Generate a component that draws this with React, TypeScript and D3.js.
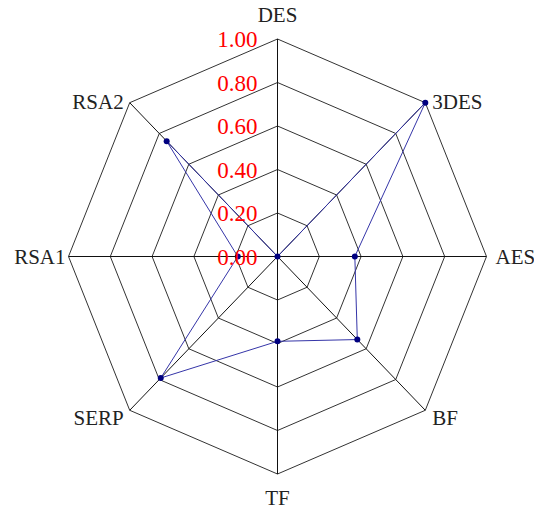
import { useEffect, useRef } from 'react';
import * as d3 from 'd3';

const axes = ['DES', '3DES', 'AES', 'BF', 'TF', 'SERP', 'RSA1', 'RSA2'];
const values = [0, 1.0, 0.37, 0.54, 0.39, 0.79, 0.19, 0.75];
const levels = [0.2, 0.4, 0.6, 0.8, 1.0];
const tickLabels = ['0.00', '0.20', '0.40', '0.60', '0.80', '1.00'];
const tickValues = [0, 0.2, 0.4, 0.6, 0.8, 1.0];

const App = () => {
    const ref = useRef<SVGSVGElement>(null);

    useEffect(() => {
        const svg = d3.select(ref.current);
        svg.selectAll('*').remove();

        const cx = 277.5;
        const cy = 256.5;
        // the plot is a bit stretched vertically
        const rx = d3.scaleLinear().domain([0, 1]).range([0, 209]);
        const ry = d3.scaleLinear().domain([0, 1]).range([0, 217.5]);
        const angle = (i: number) => (i * 2 * Math.PI) / axes.length;
        const px = (i: number, v: number) => cx + rx(v) * Math.sin(angle(i));
        const py = (i: number, v: number) => cy - ry(v) * Math.cos(angle(i));

        const g = svg.append('g');

        const ring = d3.line<number>()
            .x((d, i) => px(i, d))
            .y((d, i) => py(i, d))
            .curve(d3.curveLinearClosed);

        levels.forEach((lv) => {
            g.append('path')
                .attr('d', ring(axes.map(() => lv)))
                .attr('fill', 'none')
                .attr('stroke', '#333')
                .attr('stroke-width', 1);
        });

        axes.forEach((a, i) => {
            g.append('line')
                .attr('x1', cx).attr('y1', cy)
                .attr('x2', px(i, 1)).attr('y2', py(i, 1))
                .attr('stroke', '#111')
                .attr('stroke-width', 1);
        });

        // data polygon
        g.append('path')
            .attr('d', ring(values))
            .attr('fill', 'none')
            .attr('stroke', '#3535a8')
            .attr('stroke-width', 1);

        g.selectAll('.pt')
            .data(values)
            .enter().append('circle')
            .attr('cx', (d: number, i: number) => px(i, d))
            .attr('cy', (d: number, i: number) => py(i, d))
            .attr('r', 3)
            .attr('fill', '#000080');

        // tick labels along the top axis
        g.selectAll('.tick')
            .data(tickValues)
            .enter().append('text')
            .attr('x', cx - 20)
            .attr('y', (d: number) => cy - ry(d))
            .attr('dy', '0.35em')
            .attr('text-anchor', 'end')
            .attr('fill', '#ff0000')
            .style('font-family', '"Liberation Serif", serif')
            .style('font-size', '23px')
            .text((d: number, i: number) => tickLabels[i]);

        // axis names
        axes.forEach((a, i) => {
            const s = Math.sin(angle(i));
            const c = Math.cos(angle(i));
            let anchor = 'middle';
            let dx = 0;
            let dy = 0;
            if (s > 0.1) { anchor = 'start'; dx = 7; }
            if (s < -0.1) { anchor = 'end'; dx = -6; }
            if (c > 0.9) dy = -17;
            else if (c < -0.9) dy = 31;
            else if (c > 0.5) dy = 6;
            else if (c < -0.5) dy = 14.5;
            else dy = 7;
            if (Math.abs(c) < 0.1 && s < 0) dx = -3;
            if (Math.abs(c) < 0.1 && s > 0) dx = 9;
            g.append('text')
                .attr('x', px(i, 1) + dx)
                .attr('y', py(i, 1) + dy)
                .attr('text-anchor', anchor)
                .attr('fill', '#222')
                .style('font-family', '"Liberation Serif", serif')
                .style('font-size', '21px')
                .text(a);
        });
    }, []);

    return (
        <svg ref={ref} width={534} height={514}
            style={{ position: 'absolute', left: 0, top: 0, background: '#fff' }} />
    );
};

export default App;
